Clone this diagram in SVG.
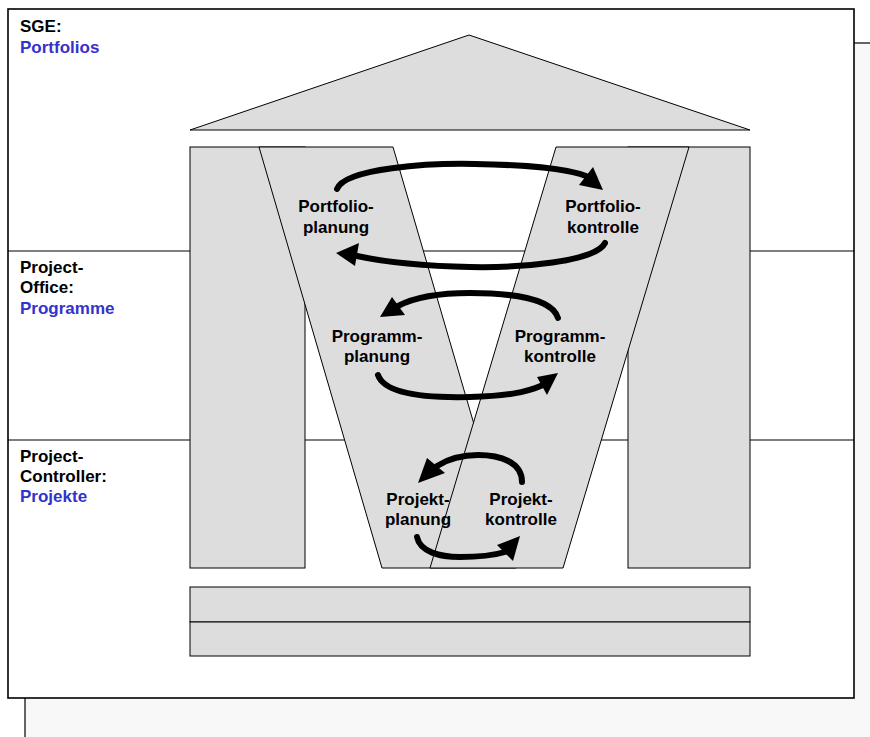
<svg xmlns="http://www.w3.org/2000/svg" width="870" height="737" viewBox="0 0 870 737">
  <style>
    .shape { fill: #dddddd; stroke: #000000; stroke-width: 1; }
    .band { stroke: #000000; stroke-width: 1.2; fill: none; }
    .arc { fill: none; stroke: #000000; stroke-width: 6; stroke-linecap: round; }
    .head { fill: #000000; stroke: none; }
    .lbl { font-family: "Liberation Sans", Arial, sans-serif; font-weight: bold; font-size: 17px; fill: #000000; }
    .lbl-c { text-anchor: middle; }
    .blue { fill: #3333cc; }
  </style>

  <!-- page background -->
  <rect x="0" y="0" width="870" height="737" fill="#ffffff"/>
  <rect x="25" y="43" width="860" height="710" fill="#f8f8f8" stroke="#000000" stroke-width="1.2"/>

  <!-- outer frame -->
  <rect id="frame" x="8" y="9" width="846" height="689" fill="#ffffff" stroke="#000000" stroke-width="1.6"/>

  <!-- band separators -->
  <g id="bands">
    <line class="band" x1="8" y1="251" x2="854" y2="251"/>
    <line class="band" x1="8" y1="440" x2="854" y2="440"/>
  </g>

  <!-- band labels -->
  <g id="label-sge">
    <text class="lbl" x="20" y="32">SGE:</text>
    <text class="lbl blue" x="20" y="53">Portfolios</text>
  </g>
  <g id="label-office">
    <text class="lbl" x="20" y="273">Project-</text>
    <text class="lbl" x="20" y="293">Office:</text>
    <text class="lbl blue" x="20" y="314">Programme</text>
  </g>
  <g id="label-controller">
    <text class="lbl" x="20" y="462">Project-</text>
    <text class="lbl" x="20" y="482">Controller:</text>
    <text class="lbl blue" x="20" y="502">Projekte</text>
  </g>

  <!-- house -->
  <g id="roof"><polygon class="shape" points="190,130 469,35 750,130"/></g>
  <g id="column-left"><rect class="shape" x="190" y="147" width="115" height="421"/></g>
  <g id="column-right"><rect class="shape" x="628" y="147" width="122" height="421"/></g>
  <g id="arm-left"><polygon class="shape" points="259,147 393,147 516,568 382,568"/></g>
  <g id="arm-right"><polygon class="shape" points="556,147 689,147 563,568 430,568"/></g>
  <g id="base">
    <rect class="shape" x="190" y="587" width="560" height="35"/>
    <rect class="shape" x="190" y="622" width="560" height="34"/>
  </g>

  <!-- cycle arrows -->
  <g id="connectors">
    <!-- portfolio cycle -->
    <path class="arc" d="M337,189 C345,168 430,163 475,164 C530,165 565,168 586,176"/>
    <polygon class="head" points="603,190 579,185 593,167"/>
    <path class="arc" d="M605,243 C595,262 520,268 470,267 C420,266 385,262 357,256"/>
    <polygon class="head" points="336,253 359,243 355,266"/>

    <!-- programme cycle -->
    <path class="arc" d="M558,318 C552,298 510,293 470,293 C440,293 415,297 398,306"/>
    <polygon class="head" points="380,317 392,297 405,315"/>
    <path class="arc" d="M378,375 C385,395 430,398 470,397 C505,396 525,393 543,385"/>
    <polygon class="head" points="558,373 537,377 547,395"/>

    <!-- project cycle -->
    <path class="arc" d="M522,482 C522,462 500,455 478,455 C462,455 448,459 437,466"/>
    <polygon class="head" points="418,483 427,458 445,473"/>
    <path class="arc" d="M417,537 C420,552 440,557 460,557 C480,557 495,555 505,552"/>
    <polygon class="head" points="520,536 497,545 513,561"/>
  </g>

  <!-- activity labels -->
  <g id="portfolioplanung"><text class="lbl lbl-c" x="336" y="212">Portfolio-</text><text class="lbl lbl-c" x="336" y="233">planung</text></g>
  <g id="portfoliokontrolle"><text class="lbl lbl-c" x="603" y="212">Portfolio-</text><text class="lbl lbl-c" x="603" y="233">kontrolle</text></g>
  <g id="programmplanung"><text class="lbl lbl-c" x="377" y="342">Programm-</text><text class="lbl lbl-c" x="377" y="362">planung</text></g>
  <g id="programmkontrolle"><text class="lbl lbl-c" x="560" y="342">Programm-</text><text class="lbl lbl-c" x="560" y="362">kontrolle</text></g>
  <g id="projektplanung"><text class="lbl lbl-c" x="418" y="505">Projekt-</text><text class="lbl lbl-c" x="418" y="525">planung</text></g>
  <g id="projektkontrolle"><text class="lbl lbl-c" x="521" y="505">Projekt-</text><text class="lbl lbl-c" x="521" y="525">kontrolle</text></g>
</svg>
